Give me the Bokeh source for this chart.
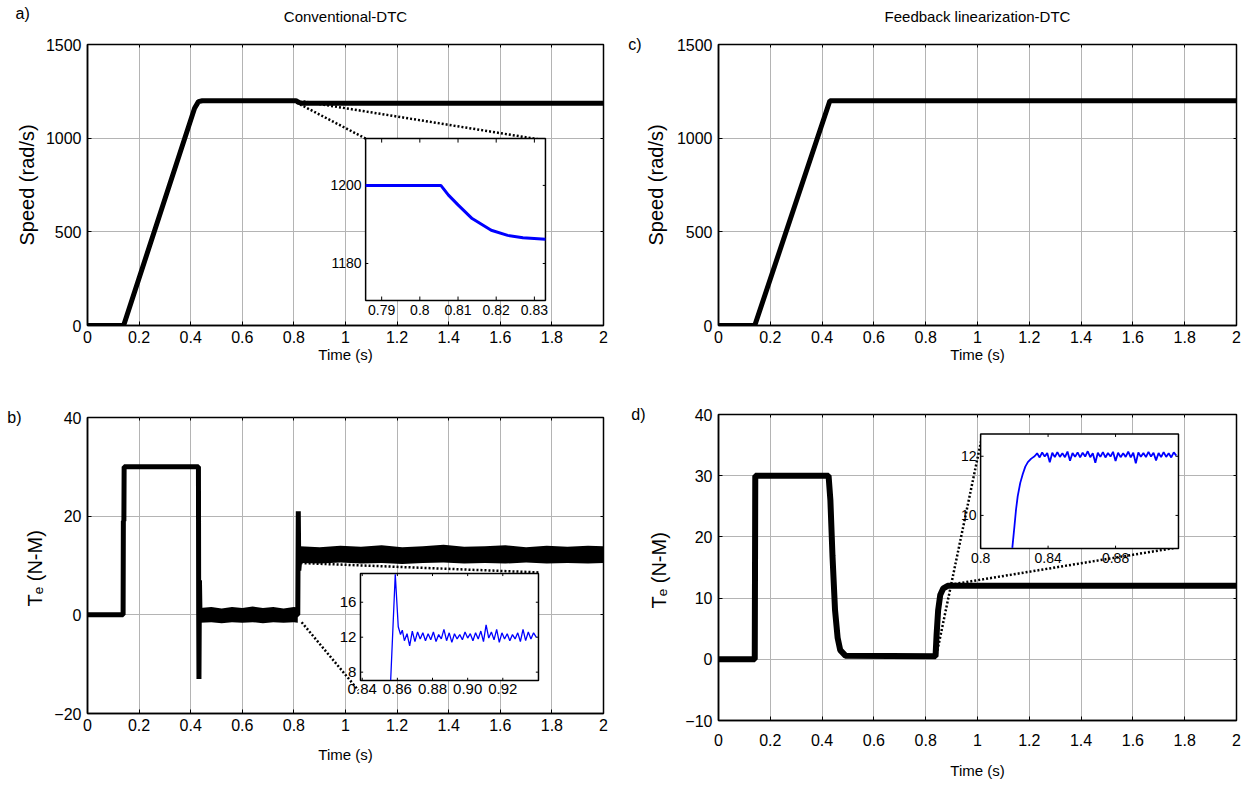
from bokeh.plotting import figure
from bokeh.models import Range1d, FixedTicker, LinearAxis, Title
from bokeh.layouts import row, column
from bokeh.embed import file_html
from bokeh.resources import INLINE
from bokeh.core.properties import value

# ---------------- data ----------------
x_ticks = [0, 0.2, 0.4, 0.6, 0.8, 1.0, 1.2, 1.4, 1.6, 1.8, 2.0]
x_tick_labels = ["0", "0.2", "0.4", "0.6", "0.8", "1", "1.2", "1.4", "1.6", "1.8", "2"]
speed_ticks = [0, 500, 1000, 1500]
te_b_ticks = [-20, 0, 20, 40]
te_d_ticks = [-10, 0, 10, 20, 30, 40]

# a) conventional DTC speed
conv_speed_t = [0, 0.14, 0.415, 0.43, 0.445, 0.808, 0.815, 0.822, 0.832, 0.85, 2.0]
conv_speed_w = [0, 0, 1160, 1195, 1200, 1200, 1194, 1190, 1187, 1186, 1186]
ins_a_t = [0.7858, 0.8055, 0.8075, 0.8100, 0.8137, 0.8187, 0.8230, 0.8270, 0.8329]
ins_a_w = [1200, 1200, 1197.5, 1195, 1191.5, 1188.5, 1187.2, 1186.6, 1186.2]
ins_a_xticks = [0.79, 0.80, 0.81, 0.82, 0.83]
ins_a_xlabels = ["0.79", "0.8", "0.81", "0.82", "0.83"]
ins_a_yticks = [1180, 1200]
ins_a_ylabels = ["1180", "1200"]

# b) conventional DTC torque
conv_te_t = [0, 0.138, 0.139, 0.141, 0.142, 0.428, 0.430, 0.431, 0.432, 0.434, 0.436,
             0.815, 0.817, 0.819, 0.824, 2.0]
conv_te_v = [0, 0, 19, 19, 30, 30, 30, 0, -13, 7, 0, 0, 21, 9, 12, 12]
# ripple envelopes (upper / lower edge of the switching band)
ripple0_t = [0.436, 0.48, 0.52, 0.56, 0.60, 0.64, 0.68, 0.72, 0.76, 0.80, 0.815]
ripple0_lo = [-1.6, -1.5, -1.7, -1.5, -1.6, -1.5, -1.7, -1.5, -1.6, -1.5, -1.6]
ripple0_hi = [1.4, 1.6, 1.3, 1.6, 1.4, 1.7, 1.4, 1.6, 1.3, 1.6, 1.5]
ripple12_t = [0.824, 0.90, 0.98, 1.06, 1.14, 1.22, 1.30, 1.38, 1.46, 1.54, 1.62,
              1.70, 1.78, 1.86, 1.94, 2.0]
ripple12_lo = [10.5, 10.4, 10.6, 10.4, 10.5, 10.3, 10.5, 10.6, 10.4, 10.5, 10.4,
               10.6, 10.4, 10.5, 10.4, 10.5]
ripple12_hi = [13.9, 13.7, 14.0, 13.8, 14.1, 13.7, 13.9, 14.2, 13.8, 13.9, 14.1,
               13.7, 14.0, 13.8, 14.0, 13.9]
ins_b_t = [0.8562, 0.8588, 0.8605, 0.8618, 0.8628,
           0.8640, 0.8655, 0.8670, 0.8685, 0.8700, 0.8715, 0.8730, 0.8745, 0.8760, 0.8775,
           0.8790, 0.8805, 0.8820, 0.8835, 0.8850, 0.8865, 0.8880, 0.8895, 0.8910, 0.8925,
           0.8940, 0.8955, 0.8970, 0.8985, 0.9000, 0.9015, 0.9030, 0.9045, 0.9060, 0.9075,
           0.9090, 0.9105, 0.9120, 0.9135, 0.9150, 0.9165, 0.9180, 0.9195, 0.9210, 0.9225,
           0.9240, 0.9255, 0.9270, 0.9285, 0.9300, 0.9315, 0.9330, 0.9345, 0.9360, 0.9375,
           0.9390]
ins_b_v = [7.1, 19.2, 13.2, 12.3, 12.8,
           11.6, 12.4, 11.0, 12.7, 11.5, 12.6, 11.8, 12.5, 11.6, 12.4,
           11.7, 12.6, 11.5, 12.3, 11.8, 12.9, 11.6, 12.5, 11.4, 12.4,
           11.8, 12.3, 11.7, 12.6, 11.9, 12.4, 11.6, 12.5, 11.8, 12.7,
           11.5, 13.4, 11.9, 12.6, 11.7, 12.9, 11.4, 12.5, 11.8, 12.4,
           11.6, 12.3, 11.8, 12.5, 11.5, 12.9, 11.6, 12.6, 11.8, 12.5,
           12.0]
ins_b_xticks = [0.84, 0.86, 0.88, 0.90, 0.92]
ins_b_xlabels = ["0.84", "0.86", "0.88", "0.90", "0.92"]
ins_b_yticks = [8, 12, 16]
ins_b_ylabels = ["8", "12", "16"]

# c) feedback linearization DTC speed
fl_speed_t = [0, 0.14, 0.43, 2.0]
fl_speed_w = [0, 0, 1200, 1200]

# d) feedback linearization DTC torque
fl_te_t = [0, 0.14, 0.142, 0.425, 0.432, 0.44, 0.45, 0.46, 0.47, 0.49,
           0.838, 0.842, 0.848, 0.856, 0.868, 0.885, 2.0]
fl_te_v = [0, 0, 30, 30, 26, 17, 8, 3.5, 1.5, 0.6,
           0.5, 4, 8, 10.5, 11.6, 12, 12]
ins_d_t = [0.8188, 0.8200, 0.8210, 0.8220, 0.8235, 0.8250, 0.8265, 0.8280, 0.8300, 0.8320,
           0.8335, 0.8350, 0.8365, 0.8380, 0.8395, 0.8410, 0.8425, 0.8440, 0.8455, 0.8470,
           0.8485, 0.8500, 0.8515, 0.8530, 0.8545, 0.8560, 0.8575, 0.8590, 0.8605, 0.8620,
           0.8635, 0.8650, 0.8665, 0.8680, 0.8695, 0.8710, 0.8725, 0.8740, 0.8755, 0.8770,
           0.8785, 0.8800, 0.8815, 0.8830, 0.8845, 0.8860, 0.8875, 0.8890, 0.8905, 0.8920,
           0.8935, 0.8950, 0.8965, 0.8980, 0.8995, 0.9010, 0.9025, 0.9040, 0.9055, 0.9070,
           0.9085, 0.9100, 0.9115, 0.9130, 0.9145, 0.9160]
ins_d_v = [8.9, 9.6, 10.2, 10.65, 11.1, 11.4, 11.65, 11.8, 11.92, 12.0,
           12.10, 11.96, 12.13, 11.99, 12.11, 11.80, 12.12, 11.97, 12.14, 11.98,
           12.10, 11.97, 12.16, 11.85, 12.11, 11.98, 12.13, 11.96, 12.12, 11.99,
           12.17, 11.97, 12.10, 11.78, 12.12, 11.98, 12.14, 11.96, 12.11, 11.99,
           12.15, 11.84, 12.12, 11.97, 12.10, 11.98, 12.16, 11.96, 12.12, 11.76,
           12.13, 11.98, 12.11, 11.97, 12.15, 11.99, 12.12, 11.86, 12.11, 11.97,
           12.14, 11.98, 12.10, 11.96, 12.13, 12.02]
ins_d_xticks = [0.80, 0.84, 0.88]
ins_d_xlabels = ["0.8", "0.84", "0.88"]
ins_d_yticks = [10, 12]
ins_d_ylabels = ["10", "12"]

# ---------------- styling helpers ----------------
FONT = "Liberation Sans"
GRID = "#b4b4b4"


def base(width, height, bl, br, bt, bb, ylim, yticks, ylabel, xl_standoff, xal_standoff,
         yal_standoff=5, title=None, title_standoff=0, tag=None):
    p = figure(width=width, height=height, x_range=Range1d(0, 2), y_range=Range1d(*ylim),
               output_backend="svg", toolbar_location=None, title=None,
               min_border_left=bl, min_border_right=br, min_border_top=bt, min_border_bottom=bb)
    p.background_fill_color = "white"
    p.border_fill_color = "white"
    p.outline_line_color = "black"
    p.outline_line_width = 1.5
    xa = p.xaxis[0]
    ya = p.yaxis[0]
    xa.ticker = FixedTicker(ticks=x_ticks)
    xa.major_label_overrides = {t: l for t, l in zip(x_ticks, x_tick_labels)}
    ya.ticker = FixedTicker(ticks=yticks)
    xa.axis_label = "Time (s)"
    xa.axis_label_text_font_size = "15px"
    xa.axis_label_standoff = xal_standoff
    xa.major_label_standoff = xl_standoff
    ya.axis_label = ylabel
    ya.axis_label_text_font_size = "20px"
    ya.axis_label_standoff = yal_standoff
    ya.major_label_standoff = 6
    for ax in (xa, ya):
        ax.major_tick_in = 4
        ax.major_tick_out = 0
        ax.minor_tick_line_color = None
        ax.axis_line_color = "black"
        ax.axis_line_width = 1.5
        ax.major_tick_line_color = "black"
        ax.major_label_text_font = FONT
        ax.major_label_text_font_size = "16px"
        ax.major_label_text_color = "black"
        ax.axis_label_text_font = FONT
        ax.axis_label_text_font_style = "normal"
        ax.axis_label_text_color = "black"
    # MATLAB-like inward ticks on the top and right edges (no labels)
    ax_top = LinearAxis(ticker=FixedTicker(ticks=[], minor_ticks=x_ticks),
                        minor_tick_in=3, minor_tick_out=0, major_tick_in=0, major_tick_out=0,
                        axis_line_color=None, major_label_standoff=0,
                        minor_tick_line_color="black")
    if title is not None:
        ax_top.axis_label = title
        ax_top.axis_label_standoff = title_standoff
        ax_top.axis_label_text_font = FONT
        ax_top.axis_label_text_font_size = "15px"
        ax_top.axis_label_text_font_style = "normal"
        ax_top.axis_label_text_color = "black"
    ax_right = LinearAxis(ticker=FixedTicker(ticks=[], minor_ticks=yticks),
                          minor_tick_in=3, minor_tick_out=0, major_tick_in=0, major_tick_out=0,
                          axis_line_color=None, major_label_standoff=0,
                          minor_tick_line_color="black")
    p.add_layout(ax_top, "above")
    p.add_layout(ax_right, "right")
    if tag is not None:
        ax_tag = LinearAxis(ticker=FixedTicker(ticks=[]), axis_line_color=None,
                            major_tick_in=0, major_tick_out=0, minor_tick_line_color=None,
                            major_label_standoff=0, axis_label=tag,
                            axis_label_orientation="horizontal", axis_label_align="end",
                            axis_label_standoff=0, axis_label_text_font=FONT,
                            axis_label_text_font_size="16px", axis_label_text_font_style="normal",
                            axis_label_text_color="black")
        p.add_layout(ax_tag, "left")
    p.xgrid.ticker = FixedTicker(ticks=x_ticks)
    p.ygrid.ticker = FixedTicker(ticks=yticks)
    for g in (p.xgrid[0], p.ygrid[0]):
        g.grid_line_color = GRID
        g.grid_line_width = 1
    return p


def connector(p, xs, ys):
    p.line(xs, ys, line_color="black", line_width=2.5, line_dash="2 2")


def inset(p, src_x, src_y, tgt_x, tgt_y, t, v, xt, xl, yt, yl, lw, fsize="14px"):
    sub = p.subplot(x_source=Range1d(*src_x), y_source=Range1d(*src_y),
                    x_target=Range1d(*tgt_x), y_target=Range1d(*tgt_y))
    sub.quad(left=[src_x[0]], right=[src_x[1]], bottom=[src_y[0]], top=[src_y[1]],
             fill_color="white", line_color="black", line_width=1.5)
    dy = (src_y[1] - src_y[0]) * 0.025
    dx = (src_x[1] - src_x[0]) * 0.015
    n = len(xt)
    sub.segment(x0=xt, y0=[src_y[0]] * n, x1=xt, y1=[src_y[0] + dy] * n, line_color="black")
    sub.segment(x0=xt, y0=[src_y[1]] * n, x1=xt, y1=[src_y[1] - dy] * n, line_color="black")
    m = len(yt)
    sub.segment(x0=[src_x[0]] * m, y0=yt, x1=[src_x[0] + dx] * m, y1=yt, line_color="black")
    sub.segment(x0=[src_x[1]] * m, y0=yt, x1=[src_x[1] - dx] * m, y1=yt, line_color="black")
    sub.line(t, v, line_color="#0000ff", line_width=lw)
    sub.text(x=xt, y=[src_y[0]] * n, text=xl, text_align="center", text_baseline="top",
             y_offset=4, text_font=value(FONT), text_font_size=fsize, text_color="black")
    sub.text(x=[src_x[0]] * m, y=yt, text=yl, text_align="right", text_baseline="middle",
             x_offset=-4, text_font=value(FONT), text_font_size=fsize, text_color="black")
    return sub


# ---------------- panel a ----------------
pa = base(618, 390, 87, 15, 44, 65, (0, 1500), speed_ticks, "Speed (rad/s)", 5, 0,
          title="Conventional-DTC", title_standoff=20)
pa.add_layout(Title(text="a)", align="left", offset=-72, standoff=-34, text_font=FONT,
                    text_font_size="16px", text_font_style="normal", text_color="black"), "above")
pa.line(conv_speed_t, conv_speed_w, line_color="black", line_width=5)
connector(pa, [0.810, 1.078], [1190, 998])
connector(pa, [0.837, 1.775], [1196, 988])
inset(pa, (0.7858, 0.8329), (1170.5, 1212), (1.078, 1.775), (133, 998),
      ins_a_t, ins_a_w, ins_a_xticks, ins_a_xlabels, ins_a_yticks, ins_a_ylabels, 3)

# ---------------- panel b ----------------
pb = base(618, 393, 87, 15, 27, 70, (-20, 40), te_b_ticks, "Tₑ  (N-M)", 5, 12, tag="b)")
pb.varea(x=ripple0_t, y1=ripple0_lo, y2=ripple0_hi, color="black")
pb.varea(x=ripple12_t, y1=ripple12_lo, y2=ripple12_hi, color="black")
pb.line(conv_te_t, conv_te_v, line_color="black", line_width=5)
connector(pb, [0.830, 1.050], [-1.5, -15.3])
connector(pb, [0.826, 1.748], [10.5, 8.6])
inset(pb, (0.839, 0.9403), (7.05, 19.3), (1.058, 1.748), (-13.3, 8.4),
      ins_b_t, ins_b_v, ins_b_xticks, ins_b_xlabels, ins_b_yticks, ins_b_ylabels, 1.3, "15px")

# ---------------- panel c ----------------
pc = base(630, 390, 100, 12, 44, 65, (0, 1500), speed_ticks, "Speed (rad/s)", 5, 0,
          yal_standoff=7, title="Feedback linearization-DTC", title_standoff=20, tag="c)")
pc.line(fl_speed_t, fl_speed_w, line_color="black", line_width=5)

# ---------------- panel d ----------------
pd_ = base(630, 393, 100, 12, 24, 63, (-10, 40), te_d_ticks, "Tₑ  (N-M)", 13, 13,
           yal_standoff=12, tag="d)")
pd_.line(fl_te_t, fl_te_v, line_color="black", line_width=6)
connector(pd_, [0.842, 1.019], [0.8, 36.7])
connector(pd_, [0.896, 1.776], [12.2, 18.3])
inset(pd_, (0.80, 0.9173), (8.88, 12.75), (1.012, 1.776), (18.1, 36.8),
      ins_d_t, ins_d_v, ins_d_xticks, ins_d_xlabels, ins_d_yticks, ins_d_ylabels, 1.8)

layout = row(column(pa, pb), column(pc, pd_))
open("out.html", "w").write(file_html(layout, INLINE))
